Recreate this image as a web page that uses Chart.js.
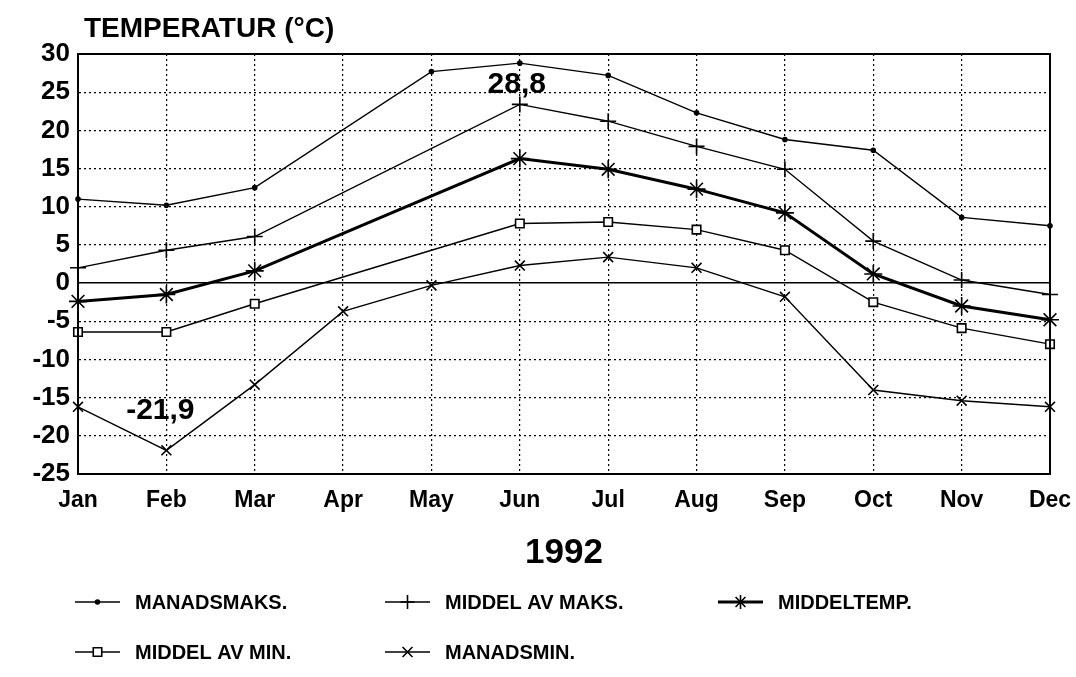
<!DOCTYPE html>
<html lang="no">
<head>
<meta charset="UTF-8">
<title>Temperatur 1992</title>
<script src="https://cdn.jsdelivr.net/npm/chart.js"></script>
<style>
  html, body { margin: 0; padding: 0; background: #fff; }
  #wrap { width: 1076px; height: 677px; position: relative; }
</style>
</head>
<body>
<div id="wrap"><canvas id="tempChart"></canvas></div>
<script>
// data (null = month not plotted, line goes straight across)
const months = ['Jan', 'Feb', 'Mar', 'Apr', 'May', 'Jun', 'Jul', 'Aug', 'Sep', 'Oct', 'Nov', 'Dec'];
const manadsmaks = [11.0, 10.2, 12.5, null, 27.7, 28.8, 27.2, 22.3, 18.8, 17.4, 8.6, 7.5];
const middelAvMaks = [2.0, 4.3, 6.1, null, null, 23.4, 21.2, 17.9, 14.9, 5.5, 0.4, -1.5];
const middeltemp = [-2.4, -1.5, 1.6, null, null, 16.3, 14.9, 12.3, 9.2, 1.2, -3.0, -4.8];
const middelAvMin = [-6.4, -6.4, -2.7, null, null, 7.8, 8.0, 7.0, 4.3, -2.5, -5.9, -8.0];
const manadsmin = [-16.2, -21.9, -13.3, -3.7, -0.3, 2.3, 3.4, 2.0, -1.8, -14.0, -15.4, -16.2];
const seriesNames = ['MANADSMAKS.', 'MIDDEL AV MAKS.', 'MIDDELTEMP.', 'MIDDEL AV MIN.', 'MANADSMIN.'];
const yMin = -25;
const yMax = 30;
const yStep = 5;
const extremeLabels = [
    { text: '28,8', month: 'Jun', value: 28.8, dx: -3, dy: 22 },
    { text: '-21,9', month: 'Feb', value: -21.9, dx: -6, dy: -40 }
];

const FONT = '"Liberation Sans", Arial, Helvetica, sans-serif';

function line(label, data, style, radius, width, fill) {
    return {
        label: label,
        data: data,
        borderColor: '#000',
        borderWidth: width,
        pointStyle: style,
        pointRadius: radius,
        pointHoverRadius: radius,
        pointBorderColor: '#000',
        pointBorderWidth: 1.6,
        pointBackgroundColor: fill,
        spanGaps: true,
        tension: 0,
        fill: false
    };
}

const datasets = [
    line(seriesNames[0], manadsmaks, 'circle', 2, 1.4, '#000'),
    line(seriesNames[1], middelAvMaks, 'cross', 8, 1.4, '#000'),
    line(seriesNames[2], middeltemp, 'star', 9, 3, '#000'),
    line(seriesNames[3], middelAvMin, 'rect', 6, 1.4, '#fff'),
    line(seriesNames[4], manadsmin, 'crossRot', 7, 1.4, '#000')
];

function marker(ctx, style, radius, x, y, fill) {
    if (Chart.helpers && Chart.helpers.drawPoint) {
        ctx.fillStyle = fill;
        Chart.helpers.drawPoint(ctx, { pointStyle: style, radius: radius, rotation: 0, borderWidth: 1.6 }, x, y);
    }
}

const paperDecor = {
    id: 'paperDecor',
    afterDraw(chart) {
        const ctx = chart.ctx;
        const area = chart.chartArea;
        const xs = chart.scales.x;
        const ys = chart.scales.y;
        ctx.save();

        // frame round the plot
        ctx.strokeStyle = '#000';
        ctx.lineWidth = 2;
        ctx.setLineDash([]);
        ctx.strokeRect(area.left, area.top, area.right - area.left, area.bottom - area.top);

        // axis heading
        ctx.fillStyle = '#000';
        ctx.font = 'bold 28px ' + FONT;
        ctx.textAlign = 'left';
        ctx.textBaseline = 'middle';
        ctx.fillText('TEMPERATUR (°C)', area.left + 6, 29);

        // extreme value labels
        ctx.font = 'bold 30px ' + FONT;
        ctx.textAlign = 'center';
        extremeLabels.forEach(l => {
            const px = xs.getPixelForValue(months.indexOf(l.month));
            const py = ys.getPixelForValue(l.value);
            ctx.fillText(l.text, px + l.dx, py + l.dy);
        });

        // legend, two rows like the original print
        const slots = [[75, 602], [385, 602], [718, 602], [75, 652], [385, 652]];
        ctx.font = 'bold 20px ' + FONT;
        ctx.textAlign = 'left';
        chart.data.datasets.forEach((ds, i) => {
            const [sx, sy] = slots[i];
            const w = 45;
            ctx.strokeStyle = '#000';
            ctx.lineWidth = ds.borderWidth;
            ctx.beginPath();
            ctx.moveTo(sx, sy);
            ctx.lineTo(sx + w, sy);
            ctx.stroke();
            ctx.lineWidth = 1.6;
            marker(ctx, ds.pointStyle, Math.min(ds.pointRadius, 7), sx + w / 2, sy, ds.pointBackgroundColor);
            ctx.fillStyle = '#000';
            ctx.fillText(ds.label, sx + w + 15, sy + 1);
        });
        ctx.restore();
    }
};

new Chart(document.getElementById('tempChart'), {
    type: 'line',
    data: { labels: months, datasets: datasets },
    plugins: [paperDecor],
    options: {
        responsive: true,
        maintainAspectRatio: false,
        animation: false,
        layout: { padding: { top: 54, right: 26, bottom: 103, left: 0 } },
        plugins: {
            legend: { display: false },
            tooltip: { enabled: false }
        },
        scales: {
            x: {
                offset: false,
                grid: { color: '#000', lineWidth: 1.2, drawTicks: false },
                border: { display: true, color: '#000', width: 2, dash: [2, 3] },
                ticks: {
                    color: '#000',
                    padding: 13,
                    maxRotation: 0,
                    autoSkip: false,
                    font: { family: FONT, size: 23, weight: 'bold' }
                },
                title: {
                    display: true,
                    text: '1992',
                    color: '#000',
                    padding: { top: 6, bottom: 0 },
                    font: { family: FONT, size: 35, weight: 'bold' }
                },
                afterFit(scale) {
                    scale.height = 100;
                    scale.paddingRight = 0;
                }
            },
            y: {
                min: yMin,
                max: yMax,
                grid: {
                    color: '#000',
                    lineWidth: (c) => (c.tick && c.tick.value === 0 ? 1.6 : 1.2),
                    drawTicks: false
                },
                border: {
                    display: true,
                    color: '#000',
                    width: 2,
                    dash: (c) => (c.tick && c.tick.value === 0 ? [] : [2, 3])
                },
                ticks: {
                    stepSize: yStep,
                    color: '#000',
                    padding: 8,
                    font: { family: FONT, size: 26, weight: 'bold' }
                },
                afterFit(scale) { scale.width = 78; }
            }
        }
    }
});
</script>
</body>
</html>
